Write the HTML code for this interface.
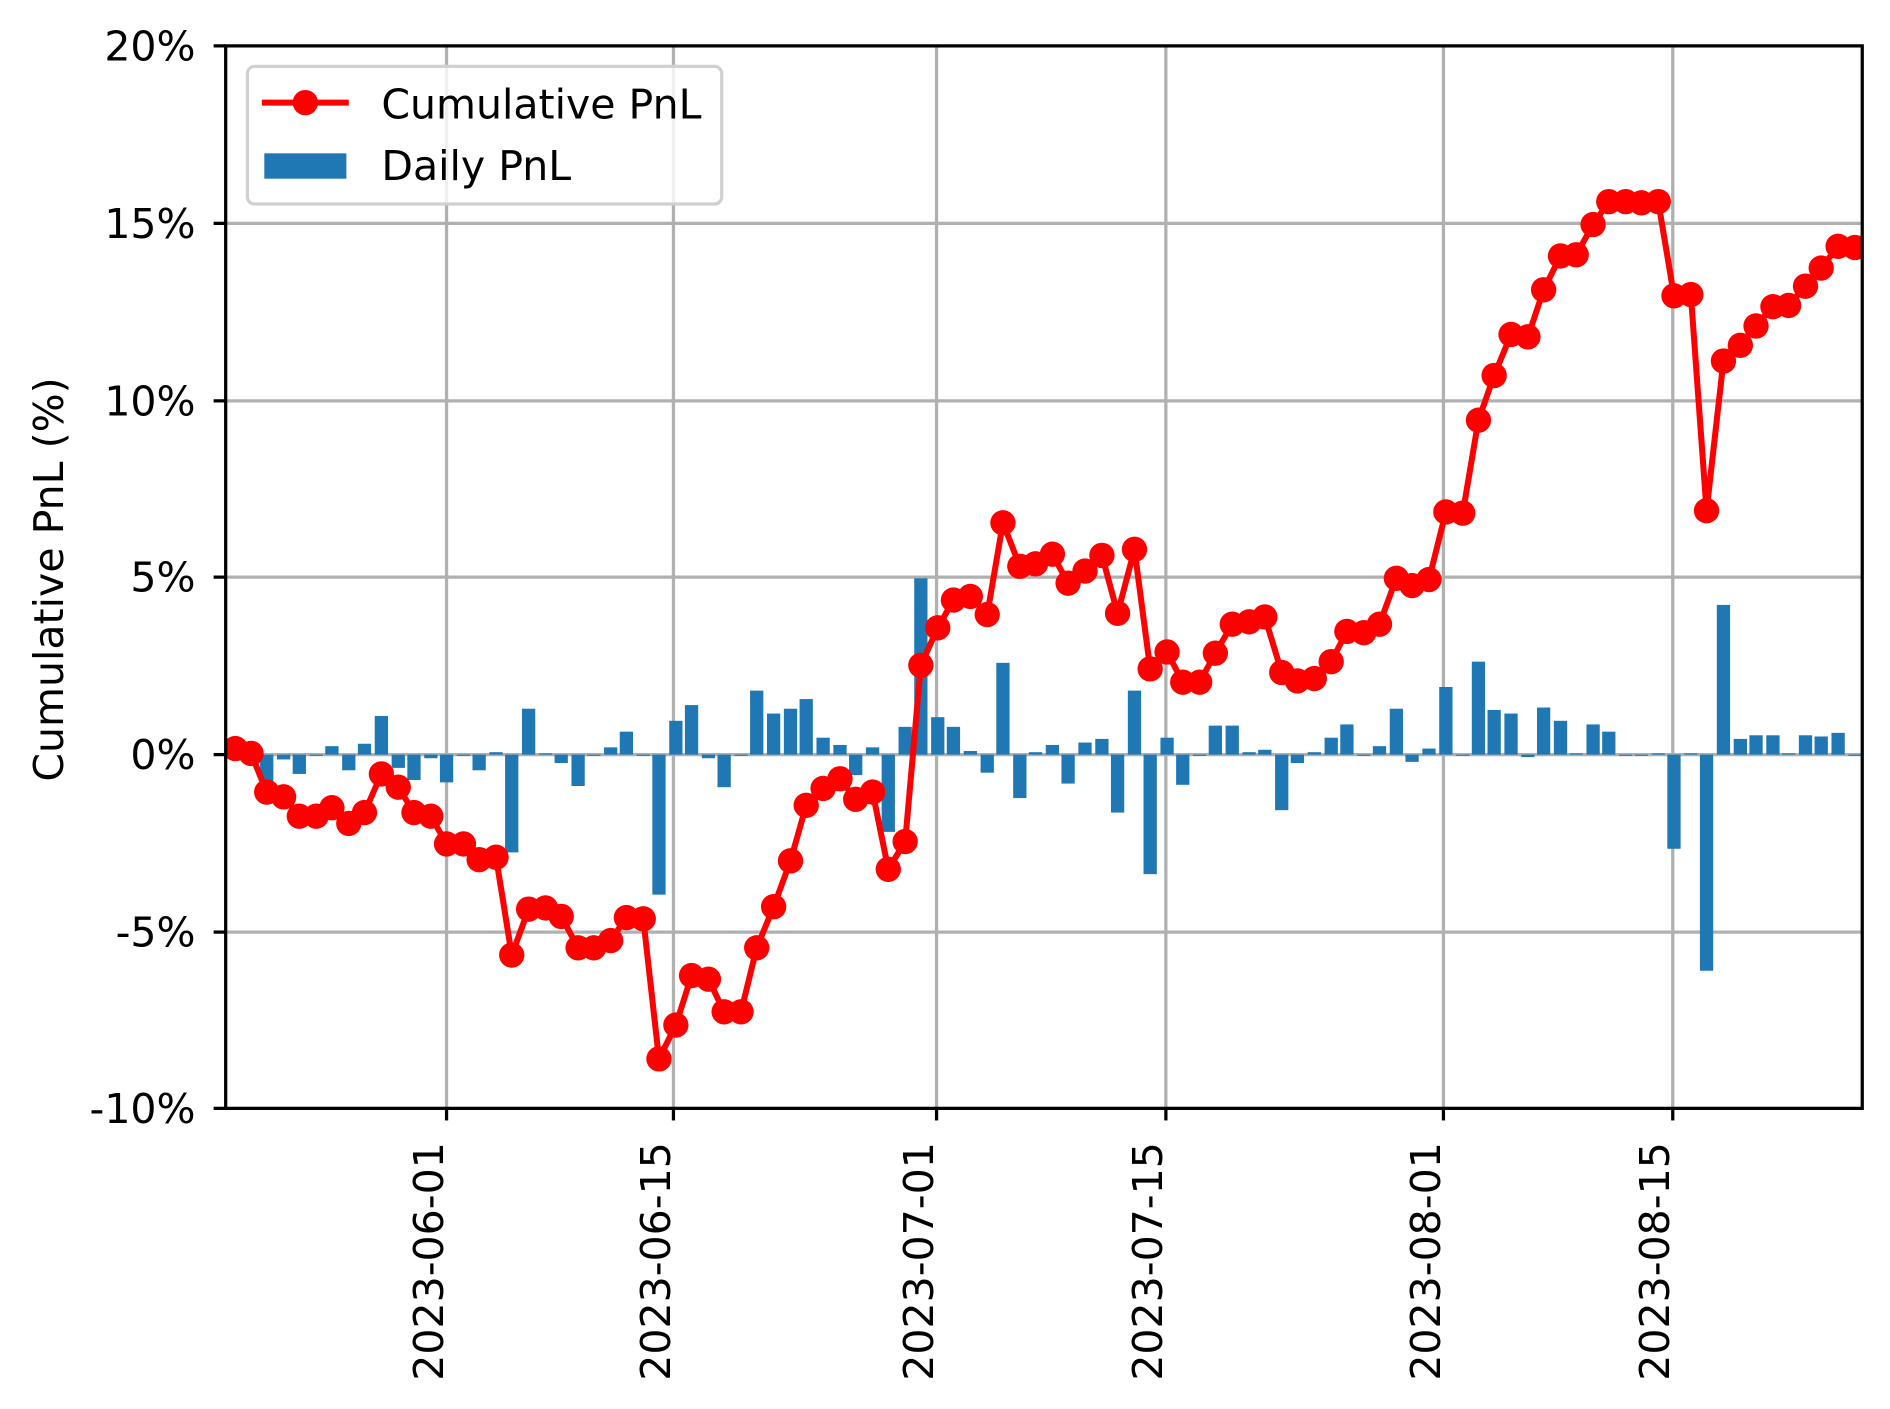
<!DOCTYPE html>
<html><head><meta charset="utf-8"><style>
html,body{margin:0;padding:0;background:#fff;}
svg{display:block;}
text{font-family:"DejaVu Sans","Liberation Sans",sans-serif;fill:#000;}
</style></head><body>
<svg id="c" xmlns="http://www.w3.org/2000/svg" width="1890" height="1409" viewBox="0 0 1566 1167" preserveAspectRatio="none">
<rect width="1566" height="1167" fill="#fff"/>
<g id="grid" stroke="#b0b0b0" stroke-width="2.7"></g>
<g id="bars" fill="#1f77b4"></g>
<g id="line"></g>
<rect x="187" y="38" width="1356" height="880" fill="none" stroke="#000" stroke-width="2.7"/>
<g id="ticks" stroke="#000" stroke-width="2.7"></g>
<g id="labels" font-size="34"></g>
<text x="52" y="480" font-size="34" text-anchor="middle" transform="rotate(-90 52 480)">Cumulative PnL (%)</text>
<rect x="205" y="55" width="393" height="114" rx="6" fill="#fff" fill-opacity="0.8" stroke="#d0d0d0" stroke-width="2.7"/>
<line x1="217" y1="85" x2="289" y2="85" stroke="#ff0000" stroke-width="5"/>
<circle cx="253" cy="85" r="10.5" fill="#ff0000"/>
<text x="316" y="98" font-size="34">Cumulative PnL</text>
<rect x="219" y="127" width="68" height="21" fill="#1f77b4"/>
<text x="316" y="149" font-size="34">Daily PnL</text>
</svg>
<script>
var NS="http://www.w3.org/2000/svg";
function el(p,t,a,txt){var e=document.createElementNS(NS,t);for(var k in a)e.setAttribute(k,a[k]);if(txt)e.textContent=txt;document.getElementById(p).appendChild(e);return e;}
var yt=[[38,"20%"],[185,"15%"],[332,"10%"],[478,"5%"],[625,"0%"],[772,"-5%"],[918,"-10%"]];
yt.forEach(function(t){
 if(t[0]>40&&t[0]<916)el("grid","line",{x1:187,x2:1543,y1:t[0],y2:t[0]});
 el("ticks","line",{x1:177,x2:187,y1:t[0],y2:t[0]});
 el("labels","text",{x:162,y:t[0]+12,"text-anchor":"end"},t[1]);
});
var xt=[[370,"2023-06-01"],[558,"2023-06-15"],[776,"2023-07-01"],[966,"2023-07-15"],[1196,"2023-08-01"],[1386,"2023-08-15"]];
xt.forEach(function(t){
 el("grid","line",{x1:t[0],x2:t[0],y1:38,y2:918});
 el("ticks","line",{x1:t[0],x2:t[0],y1:918,y2:928});
 var bx=t[0]-3;
 el("labels","text",{x:bx,y:946,"text-anchor":"end",transform:"rotate(-90 "+bx+" 946)"},t[1]);
});
var pts=[[195,620],[208,624],[221,656],[235,660],[248,676],[262,676],[275,669],[289,682],[302,673],[316,641],[330,652],[343,673],[357,676],[370,699],[384,699],[397,712],[411,710],[424,791],[438,753],[452,752],[465,759],[479,785],[492,785],[506,779],[519,760],[533,761],[546,877],[560,849],[573,808],[587,811],[600,838],[614,838],[627,785],[641,751],[655,713],[668,667],[682,653],[696,645],[709,662],[723,656],[736,720],[750,697],[763,551],[777,520],[790,497],[804,494],[818,509],[831,433],[845,469],[858,467],[872,459],[885,483],[899,473],[913,460],[926,508],[940,455],[953,554],[967,540],[980,565],[994,565],[1007,541],[1021,517],[1035,515],[1048,511],[1062,557],[1075,564],[1089,562],[1103,548],[1116,523],[1130,524],[1143,517],[1157,479],[1170,485],[1184,480],[1198,424],[1212,425],[1225,348],[1238,311],[1252,277],[1266,279],[1279,240],[1293,212],[1306,211],[1320,186],[1333,167],[1347,167],[1360,168],[1374,167],[1387,245],[1401,244],[1414,423],[1428,299],[1442,286],[1455,270],[1469,254],[1482,253],[1496,237],[1509,222],[1523,204],[1537,205]];
var prev=625;
pts.forEach(function(p){
 var d=p[1]-prev; prev=p[1];
 var h=Math.abs(d); if(h<1)h=1;
 var y=d<0?625-h:625;
 if(p[0]-5.5<1543)el("bars","rect",{x:p[0]-5.5,y:y,width:Math.min(11,1543-(p[0]-5.5)),height:h});
});
el("line","polyline",{points:pts.map(function(p){return p.join(",")}).join(" "),fill:"none",stroke:"#ff0000","stroke-width":5,"stroke-linejoin":"round"});
var cp=el("line","clipPath",{id:"cl"});
var r=document.createElementNS(NS,"rect");r.setAttribute("x",187);r.setAttribute("y",38);r.setAttribute("width",1356);r.setAttribute("height",880);cp.appendChild(r);
var g=el("line","g",{"clip-path":"url(#cl)",fill:"#ff0000"});
pts.forEach(function(p){var c=document.createElementNS(NS,"circle");c.setAttribute("cx",p[0]);c.setAttribute("cy",p[1]);c.setAttribute("r",10.5);g.appendChild(c);});
</script>
</body></html>
